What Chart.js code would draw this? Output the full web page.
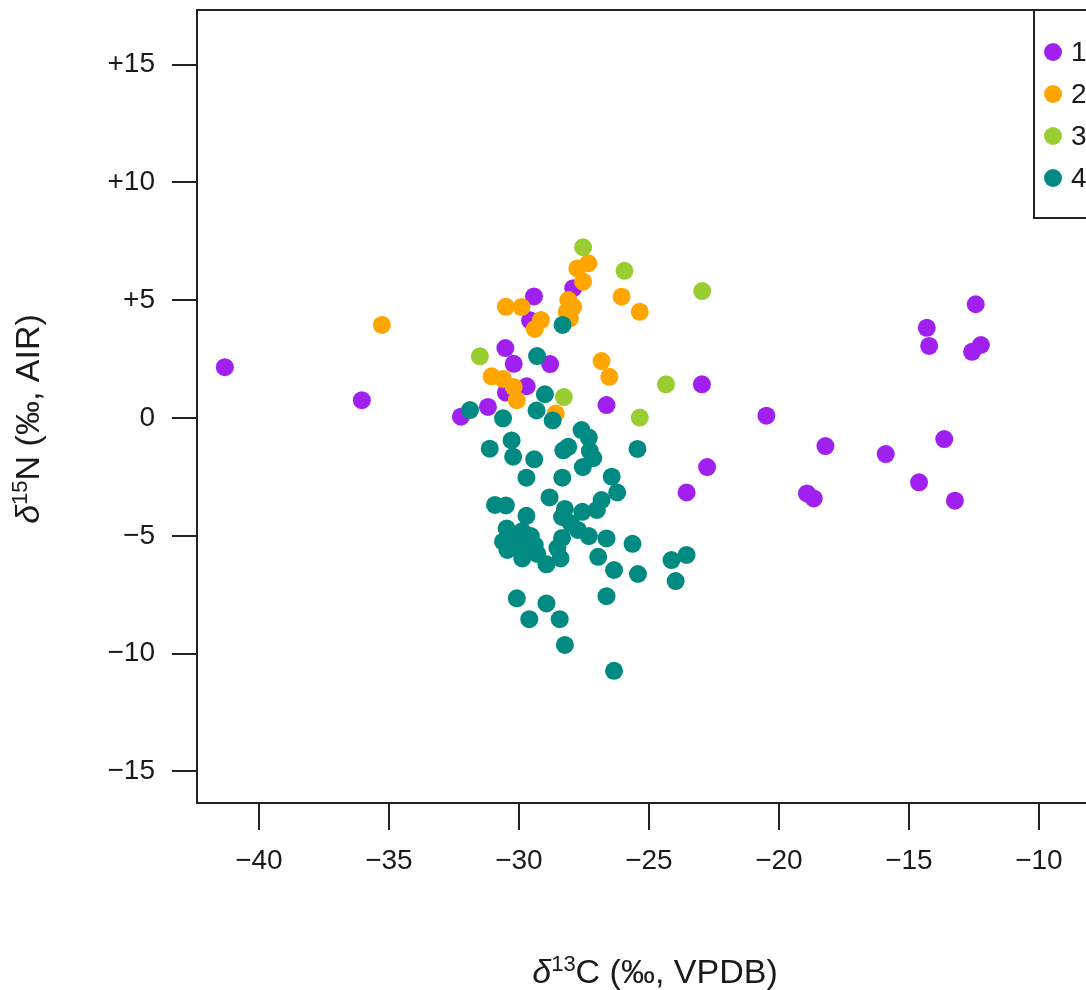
<!DOCTYPE html>
<html>
<head>
<meta charset="utf-8">
<script src="https://cdn.jsdelivr.net/npm/chart.js@4.4.0/dist/chart.umd.min.js"></script>
<style>
html, body { margin: 0; padding: 0; background: #fff; overflow: hidden; }
#wrap { width: 1120px; height: 990px; }
</style>
</head>
<body>
<div id="wrap"><canvas id="isoChart" width="1120" height="990"></canvas></div>
<script>
const groupNames = ['1', '2', '3', '4'];
const groupColors = ['#a020f0', '#ffa500', '#9acd32', '#008a82'];
const xTicks = [-40, -35, -30, -25, -20, -15, -10];
const yTicks = [-15, -10, -5, 0, 5, 10, 15];

const g1X = [-41.31, -36.04, -32.23, -31.19, -29.42, -29.57, -27.91, -30.52, -30.20, -28.80, -29.70, -30.50, -26.63, -22.96, -22.76, -23.55, -12.43, -14.31, -14.22, -12.57, -12.23, -20.48, -18.21, -15.89, -13.64, -18.92, -18.66, -14.61, -13.23];
const g1Y = [2.16, 0.76, 0.06, 0.47, 5.16, 4.15, 5.51, 2.97, 2.30, 2.29, 1.35, 1.08, 0.55, 1.43, -2.08, -3.16, 4.83, 3.83, 3.06, 2.81, 3.10, 0.10, -1.19, -1.53, -0.89, -3.20, -3.41, -2.73, -3.51];

const g2X = [-35.27, -30.50, -29.90, -29.15, -29.39, -28.10, -27.91, -28.16, -28.04, -27.33, -27.75, -27.53, -26.05, -25.35, -26.82, -26.52, -31.05, -30.61, -30.20, -30.08, -28.58];
const g2Y = [3.95, 4.72, 4.71, 4.16, 3.78, 5.01, 4.72, 4.51, 4.23, 6.57, 6.35, 5.79, 5.15, 4.51, 2.42, 1.75, 1.77, 1.66, 1.32, 0.76, 0.19];

const g3X = [-27.53, -25.94, -22.95, -31.50, -28.27, -24.34, -25.35];
const g3Y = [7.25, 6.25, 5.39, 2.62, 0.89, 1.43, 0.02];

const g4X = [-31.88, -30.61, -29.32, -28.70, -28.32, -29.30, -29.00, -27.59, -27.31, -27.27, -27.14, -27.54, -31.12, -30.28, -30.22, -29.41, -28.29, -28.10, -25.44,
    -29.71, -28.33, -26.43, -26.22, -28.82, -30.92, -30.50, -29.71, -30.47, -29.87, -29.54, -30.61, -30.16, -29.85, -30.44, -29.39, -29.87, -29.29, -28.94, -28.40,
    -28.34, -28.23, -28.34, -27.56, -26.82, -27.00, -28.00, -27.73, -27.31, -26.63, -28.52, -26.95, -25.63, -26.34, -25.42, -24.13, -23.55, -23.97,
    -30.08, -28.94, -26.63, -29.60, -28.43, -28.23, -26.34];
const g4Y = [0.34, -0.01, 0.32, -0.10, 3.95, 2.63, 1.01, -0.51, -0.83, -1.40, -1.70, -2.08, -1.30, -0.95, -1.64, -1.75, -1.37, -1.22, -1.31,
    -2.53, -2.53, -2.49, -3.16, -3.37, -3.69, -3.71, -4.15, -4.69, -4.80, -5.01, -5.25, -5.28, -5.48, -5.60, -5.39, -5.96, -5.77, -6.21, -5.96,
    -5.09, -3.86, -4.20, -3.98, -3.48, -3.90, -4.47, -4.75, -5.01, -5.11, -5.52, -5.89, -5.34, -6.45, -6.62, -6.03, -5.81, -6.92,
    -7.65, -7.87, -7.56, -8.54, -8.54, -9.63, -10.73];

const xMin = -42.38, xMax = -7.38;
const yMin = -16.34, yMax = 17.32;

const FONT = '"Liberation Sans", Arial, sans-serif';
const INK = '#1a1a1a';

function fmtTick(v) {
    if (v > 0) return '+' + v;
    if (v < 0) return '\u2212' + Math.abs(v);
    return '0';
}

function toPoints(xs, ys) {
    return xs.map((x, i) => ({ x: x, y: ys[i] }));
}

// title pieces: italic delta, superscript mass number, rest
function drawRichText(ctx, parts, cx, baseline) {
    let total = 0;
    parts.forEach(p => {
        ctx.font = (p.italic ? 'italic ' : '') + p.size + 'px ' + FONT;
        p.w = ctx.measureText(p.t).width;
        total += p.w;
    });
    let x = cx - total / 2;
    ctx.textAlign = 'left';
    ctx.textBaseline = 'alphabetic';
    parts.forEach(p => {
        ctx.font = (p.italic ? 'italic ' : '') + p.size + 'px ' + FONT;
        ctx.fillText(p.t, x, baseline - (p.rise || 0));
        x += p.w;
    });
}

const decorPlugin = {
    id: 'decor',
    afterDraw(chart) {
        const ctx = chart.ctx;
        const a = chart.chartArea;
        ctx.save();
        ctx.strokeStyle = '#222';
        ctx.lineWidth = 2;
        ctx.strokeRect(a.left, a.top, a.right - a.left, a.bottom - a.top);

        // legend box in the top right corner
        const lx = 1034, lb = 218;
        ctx.strokeRect(lx, a.top, a.right - lx, lb - a.top);
        chart.data.datasets.forEach((ds, i) => {
            const cy = 52 + i * 42;
            ctx.fillStyle = ds.backgroundColor;
            ctx.beginPath();
            ctx.arc(1053, cy, 9, 0, Math.PI * 2);
            ctx.fill();
            ctx.fillStyle = INK;
            ctx.font = '28px ' + FONT;
            ctx.textAlign = 'left';
            ctx.textBaseline = 'middle';
            ctx.fillText(ds.label, 1071, cy + 1);
        });

        ctx.fillStyle = INK;
        drawRichText(ctx, [
            { t: '\u03b4', italic: true, size: 34 },
            { t: '13', size: 22, rise: 12 },
            { t: 'C (\u2030, VPDB)', size: 34 }
        ], 655, 983);

        ctx.translate(39, 419);
        ctx.rotate(-Math.PI / 2);
        drawRichText(ctx, [
            { t: '\u03b4', italic: true, size: 34 },
            { t: '15', size: 22, rise: 12 },
            { t: 'N (\u2030, AIR)', size: 34 }
        ], 0, 0);
        ctx.restore();
    }
};

function buildDatasets() {
    const xs = [g1X, g2X, g3X, g4X];
    const ys = [g1Y, g2Y, g3Y, g4Y];
    return groupNames.map((name, i) => ({
        label: name,
        data: toPoints(xs[i], ys[i]),
        backgroundColor: groupColors[i],
        borderWidth: 0,
        pointRadius: 9,
        pointHoverRadius: 9,
        order: 4 - i
    }));
}

function createChart(ctx) {
    return new Chart(ctx, {
        type: 'scatter',
        data: { datasets: buildDatasets() },
        options: {
            responsive: false,
            animation: false,
            events: [],
            devicePixelRatio: 1,
            layout: { padding: { top: 10, right: 13, left: 0, bottom: 0 } },
            plugins: {
                legend: { display: false },
                tooltip: { enabled: false }
            },
            scales: {
                x: {
                    type: 'linear',
                    min: xMin,
                    max: xMax,
                    afterBuildTicks: s => { s.ticks = xTicks.map(v => ({ value: v })); },
                    afterFit: s => { s.height = 187; s.paddingLeft = 0; s.paddingRight = 0; },
                    grid: { drawOnChartArea: false, drawTicks: true, tickLength: 27, color: '#222', lineWidth: 2 },
                    border: { display: false },
                    ticks: {
                        font: { family: FONT, size: 28 },
                        color: INK,
                        padding: 14,
                        maxRotation: 0,
                        autoSkip: false,
                        callback: v => fmtTick(v)
                    }
                },
                y: {
                    type: 'linear',
                    min: yMin,
                    max: yMax,
                    afterBuildTicks: s => { s.ticks = yTicks.map(v => ({ value: v })); },
                    afterFit: s => { s.width = 197; s.paddingTop = 0; s.paddingBottom = 0; },
                    grid: { drawOnChartArea: false, drawTicks: true, tickLength: 25, color: '#222', lineWidth: 2 },
                    border: { display: false },
                    ticks: {
                        font: { family: FONT, size: 28 },
                        color: INK,
                        padding: 17,
                        autoSkip: false,
                        callback: v => fmtTick(v)
                    }
                }
            }
        },
        plugins: [decorPlugin]
    });
}

document.addEventListener('DOMContentLoaded', () => {
    const ctx = document.getElementById('isoChart').getContext('2d');
    createChart(ctx);
});
</script>
</body>
</html>
